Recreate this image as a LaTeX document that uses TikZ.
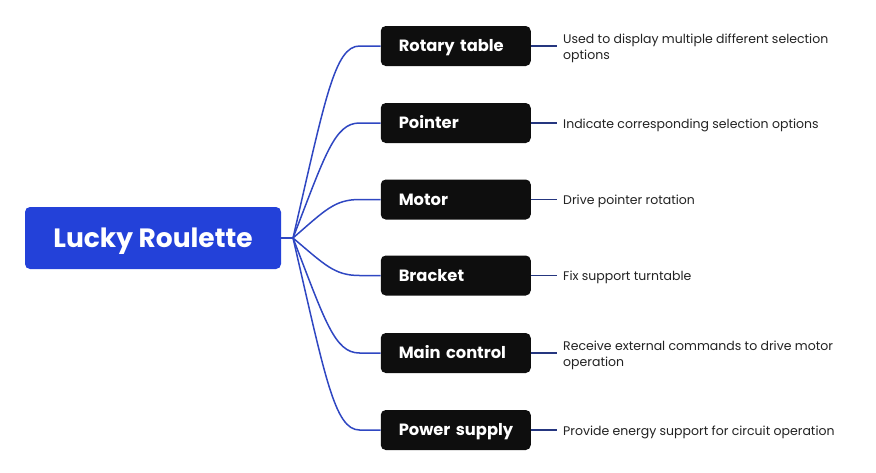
\documentclass[tikz,border=0pt]{standalone}
\usepackage{fontspec}
\setmainfont{Poppins}
\usetikzlibrary{calc}
\definecolor{rootblue}{HTML}{2341D9}
\definecolor{linkblue}{HTML}{2F47C2}
\definecolor{navy}{HTML}{25367F}
\definecolor{boxblack}{HTML}{0E0E0E}
\definecolor{desctext}{HTML}{222222}
\begin{document}
\begin{tikzpicture}[x=1pt,y=-1pt,
  rootbox/.style={fill=rootblue, rounded corners=5pt, minimum width=256pt,
    minimum height=62pt, text=white, inner sep=0pt, text height=18.5pt, text depth=0pt,
    font=\fontsize{26.5}{30}\selectfont\bfseries},
  itembox/.style={fill=boxblack, rounded corners=5pt, minimum height=40pt,
    text=white, inner xsep=18pt, inner ysep=0pt, text width=114pt, align=left,
    text height=11.6pt, text depth=0pt,
    font=\fontsize{16.3}{20}\selectfont\bfseries},
  desc/.style={anchor=west, inner xsep=6pt, inner ysep=0pt, align=left, yshift=-2pt,
    text=desctext, font=\fontsize{12.5}{16}\selectfont},
  branch/.style={draw=linkblue, line width=1.5pt},
  leaf/.style={draw=navy, line width=1.5pt}]
\useasboundingbox (0,0) rectangle (876,472);
\node[rootbox] (root) at (153,238) {Lucky Roulette};
\coordinate (J) at (293,238);
\node[itembox] (b1) at (455.75,46) {\mbox{Rotary table}};
\node[itembox] (b2) at (455.75,123) {\mbox{Pointer}};
\node[itembox] (b3) at (455.75,199.5) {\mbox{Motor}};
\node[itembox] (b4) at (455.75,275.5) {\mbox{Bracket}};
\node[itembox] (b5) at (455.75,353) {\mbox{Main control}};
\node[itembox] (b6) at (455.75,430) {\mbox{Power supply}};
\node[desc] (d1) at (557,46) {Used to display multiple different selection\\options};
\node[desc] (d2) at (557,123) {Indicate corresponding selection options};
\node[desc] (d3) at (557,199.5) {Drive pointer rotation};
\node[desc] (d4) at (557,275.5) {Fix support turntable};
\node[desc] (d5) at (557,353) {Receive external commands to drive motor\\operation};
\node[desc] (d6) at (557,430) {Provide energy support for circuit operation};
\draw[branch] (root.east) -- (J);
\foreach \i in {1,...,6}{
  \path (J|-b\i.west) coordinate (v\i);
  \draw[branch] (J) .. controls ($(J)!0.72!(v\i)+(32,0)$) and ($(b\i.west)+(-46,0)$)
    .. ($(b\i.west)+(-21,0)$) -- (b\i.west);
  \draw[leaf] (b\i.east) -- (b\i.east-|d\i.west);
}
\end{tikzpicture}
\end{document}
